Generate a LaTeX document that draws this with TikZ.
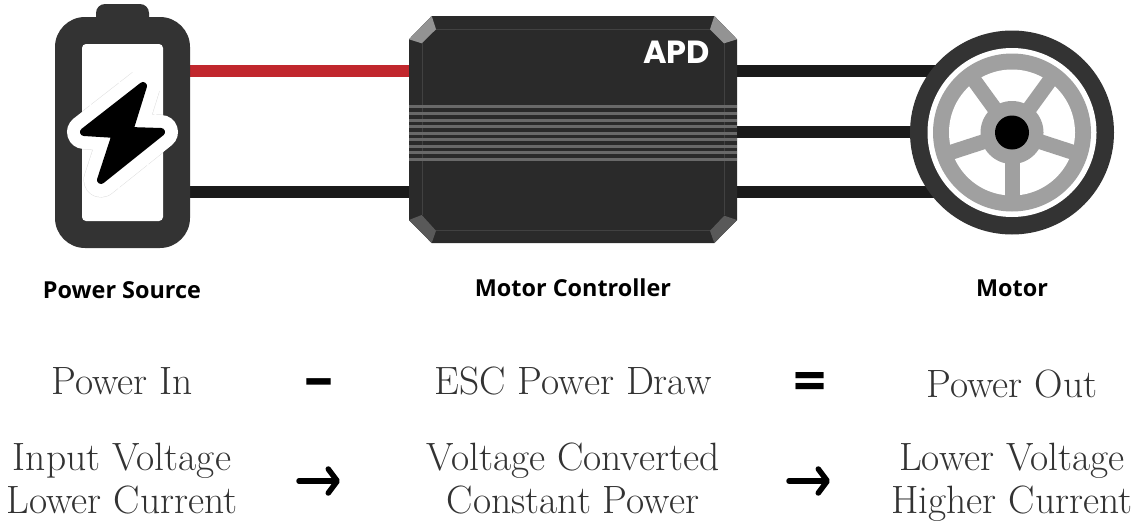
\documentclass[tikz,border=0pt]{standalone}
\usepackage{fontspec}
\newfontfamily\labelfont{Open Sans}
\newfontfamily\logofont{Poppins}
\usepackage{tikz}
\usetikzlibrary{arrows.meta, backgrounds, positioning}
\definecolor{darkgrey}{HTML}{333333}
\definecolor{bodygrey}{HTML}{2A2A2A}
\definecolor{bevelline}{HTML}{414141}
\definecolor{wireblack}{HTML}{1A1A1A}
\definecolor{wirered}{HTML}{C1272D}
\definecolor{rimgrey}{HTML}{A0A0A0}
\definecolor{stripegrey}{HTML}{696969}
\tikzset{
    boxnode/.style = {draw=none, rectangle, inner sep = 0pt, node distance=0pt},
    discnode/.style = {draw=none, circle, inner sep = 0pt, node distance=0pt},
    partlabel/.style = {draw=none, inner sep = 0pt, node distance=0pt, text=black,
      font=\labelfont\bfseries\fontsize{23.4}{28}\selectfont},
    bigtext/.style = {draw=none, inner sep = 0pt, node distance=0pt, text=darkgrey, anchor=base,
      font=\fontsize{39.5}{43}\selectfont},
    signnode/.style = {draw=none, inner sep = 0pt, node distance=0pt, text=black, anchor=base,
      font=\labelfont\bfseries\fontsize{58}{58}\selectfont},
    wire/.style = {wireblack, line width=12.5pt},
    redwire/.style = {wirered, line width=12.5pt},
    stripe/.style = {stripegrey, line width=3pt},
    bevelrule/.style = {bevelline, line width=1pt},
    bevel/.style = {draw=none, fill=#1},
    spoke/.style = {rimgrey, line width=15pt},
    leadsto/.style = {black, line width=5.5pt, line cap=round,
      -{Straight Barb[length=9pt, width=24pt, round, line width=5.5pt]}}
}
\begin{document}
\begin{tikzpicture}[x=1pt, y=-1pt]
    \useasboundingbox (0,0) rectangle (1140,522);

    % power source
    \node [name=batterycap, boxnode, fill=darkgrey, rounded corners=9pt, minimum width=53pt, minimum height=24pt] at (122.5,16) {};
    \node [name=battery, boxnode, fill=darkgrey, rounded corners=30pt, minimum width=135pt, minimum height=231pt] at (122.5,132.5) {};
    \node [name=batterywindow, boxnode, fill=white, rounded corners=4pt, minimum width=81pt, minimum height=177pt, right of = battery] {};
    \begin{scope}
      \clip (82,44) rectangle (163,221);
      \draw [gray!25, dotted, line width=35pt, line join=round, fill=gray!25] (143,86) -- (129,131) -- (161,132) -- (101,180) -- (116,134) -- (84,132) -- cycle;
    \end{scope}
    \draw [white, fill=white, line width=34pt, line join=round] (143,86) -- (129,131) -- (161,132) -- (101,180) -- (116,134) -- (84,132) -- cycle;
    \draw [black, fill=black, line width=8pt, line join=round] (143,86) -- (129,131) -- (161,132) -- (101,180) -- (116,134) -- (84,132) -- cycle;

    % motor controller
    \node [name=controller, boxnode, minimum width=328pt, minimum height=227pt, right of = battery, xshift=450.5pt, yshift=3pt] {};
    \fill [bodygrey] (409,39.3) -- (431.7,16) -- (714.3,16) -- (737,39.3) -- (737,220) -- (714.3,243) -- (431.7,243) -- (409,220) -- cycle;
    \draw [bevelrule] (436,29) -- (710,29);
    \draw [bevelrule] (436,230.5) -- (710,230.5);
    \draw [bevelrule] (422,43) -- (422,215);
    \draw [bevelrule] (724,43) -- (724,215);
    \fill [bevel=gray!85] (409,39.3) -- (431.7,16) -- (436,29.3) -- (421.7,43.3) -- cycle;
    \fill [bevel=gray!85] (710,29.3) -- (714.3,16) -- (737,39.3) -- (724,43.3) -- cycle;
    \fill [bevel=gray!130] (409,220) -- (421.7,215) -- (436,230.7) -- (431.7,243) -- cycle;
    \fill [bevel=gray!130] (710,230.7) -- (724.3,215.7) -- (737,220) -- (714.3,243) -- cycle;

    \draw [stripe] (409,106.7) -- (737,106.7);
    \draw [stripe] (409,113.3) -- (737,113.3);
    \draw [stripe] (409,120) -- (737,120);
    \draw [stripe] (409,126.7) -- (737,126.7);
    \draw [stripe] (409,133) -- (737,133);
    \draw [stripe] (409,139.5) -- (737,139.5);
    \draw [stripe] (409,146) -- (737,146);
    \draw [stripe] (409,152.7) -- (737,152.7);
    \draw [stripe] (409,159.3) -- (737,159.3);

    \node [name=logo, inner sep=0pt, text=white, font=\logofont\bfseries\fontsize{32}{32}\selectfont] at (676.5,52.5) {APD};

    % motor
    \node [name=wheel, discnode, fill=darkgrey, minimum size=204pt] at (1012,132.5) {};
    \node [name=wheelgap, discnode, fill=white, minimum size=169pt, right of = wheel] {};
    \node [name=rim, discnode, fill=rimgrey, minimum size=158pt, right of = wheel] {};
    \node [name=rimhole, discnode, fill=white, minimum size=126pt, right of = wheel] {};
    \draw [spoke] (wheel.center) -- ++(270:70pt);
    \draw [spoke] (wheel.center) -- ++(342:70pt);
    \draw [spoke] (wheel.center) -- ++(54:70pt);
    \draw [spoke] (wheel.center) -- ++(126:70pt);
    \draw [spoke] (wheel.center) -- ++(198:70pt);
    \node [name=hub, discnode, fill=rimgrey, minimum size=63pt, right of = wheel] {};
    \node [name=axle, discnode, fill=black, minimum size=34pt, right of = wheel] {};

    % wires
    \coordinate (upperline) at (0,71);
    \coordinate (middleline) at (0,132);
    \coordinate (lowerline) at (0,192);
    \begin{scope}[on background layer]
      \draw [redwire] (battery.east |- upperline) -- (controller.west |- upperline);
      \draw [wire] (battery.east |- lowerline) -- (controller.west |- lowerline);
      \draw [wire] (controller.east |- upperline) -- (wheel.center |- upperline);
      \draw [wire] (controller.east |- middleline) -- (wheel.center |- middleline);
      \draw [wire] (controller.east |- lowerline) -- (wheel.center |- lowerline);
    \end{scope}

    % labels
    \node [name=sourcelabel, partlabel] at (122,290) {Power Source};
    \node [name=controllerlabel, partlabel] at (573,288) {Motor Controller};
    \node [name=motorlabel, partlabel] at (1012,288) {Motor};

    \node [name=powerin, bigtext] at (122,394.5) {Power In};
    \node [name=minussign, signnode] at (319,397) {–};
    \node [name=escdraw, bigtext] at (573,394.5) {ESC Power Draw};
    \node [name=equalsign, signnode] at (810,401) {=};
    \node [name=powerout, bigtext] at (1012,397) {Power Out};

    \node [name=inputtext, bigtext] at (122,470) {Input Voltage};
    \node [name=inputtexttwo, bigtext] at (122,513.5) {Lower Current};
    \node [name=convertedtext, bigtext] at (573,470) {Voltage Converted};
    \node [name=convertedtexttwo, bigtext] at (573,513.5) {Constant Power};
    \node [name=outputtext, bigtext] at (1012,470) {Lower Voltage};
    \node [name=outputtexttwo, bigtext] at (1012,513.5) {Higher Current};

    \coordinate (arrowonefrom) at (299,481);
    \coordinate (arrowoneto) at (340,481);
    \coordinate (arrowtwofrom) at (789,481);
    \coordinate (arrowtwoto) at (830,481);
    \draw [leadsto] (arrowonefrom) -- (arrowoneto);
    \draw [leadsto] (arrowtwofrom) -- (arrowtwoto);
\end{tikzpicture}
\end{document}
